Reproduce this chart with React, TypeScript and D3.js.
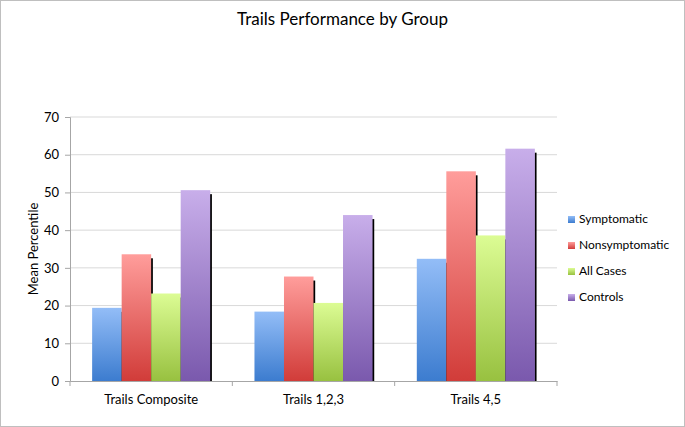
import React, { useRef, useEffect } from 'react';
import * as d3 from 'd3';

const categories = ['Trails Composite', 'Trails 1,2,3', 'Trails 4,5'];
const seriesNames = ['Symptomatic', 'Nonsymptomatic', 'All Cases', 'Controls'];
const symptomatic = [19.4, 18.4, 32.4];
const nonsymptomatic = [33.6, 27.7, 55.6];
const allCases = [23.2, 20.7, 38.6];
const controls = [50.6, 44.0, 61.6];
const yTicks = [0, 10, 20, 30, 40, 50, 60, 70];

// top / bottom gradient colours per series
const colorsTop = ['#93bdf7', '#ff9d9b', '#dcfc94', '#c8aeea'];
const colorsBottom = ['#3c7ccf', '#d13c39', '#98c140', '#7a59ad'];

const W = 685;
const H = 427;
const FONT = 'Lato, "Open Sans", sans-serif';

function App() {
  const svgRef = useRef<SVGSVGElement>(null);

  useEffect(() => {
    const series = [symptomatic, nonsymptomatic, allCases, controls];
    const svg = d3.select(svgRef.current);
    svg.selectAll('*').remove();

    const margin = { top: 117, right: 128, bottom: 46, left: 70 };
    const width = W - margin.left - margin.right;
    const height = H - margin.top - margin.bottom;

    // outer border
    svg.append('rect')
      .attr('x', 0.5).attr('y', 0.5)
      .attr('width', W - 1).attr('height', H - 1)
      .attr('fill', 'white')
      .attr('stroke', '#bfbfbf');

    const defs = svg.append('defs');
    seriesNames.forEach((_, i) => {
      const g = defs.append('linearGradient')
        .attr('id', `grad-${i}`)
        .attr('x1', '0%').attr('y1', '0%')
        .attr('x2', '0%').attr('y2', '100%');
      g.append('stop').attr('offset', '0%').attr('stop-color', colorsTop[i]);
      g.append('stop').attr('offset', '100%').attr('stop-color', colorsBottom[i]);
    });

    const g = svg.append('g')
      .attr('transform', `translate(${margin.left},${margin.top})`);

    const x0 = d3.scaleBand()
      .domain(categories)
      .range([0, width])
      .paddingInner(0)
      .paddingOuter(0);

    const x1 = d3.scaleBand()
      .domain(seriesNames)
      .range([0, x0.bandwidth()])
      .paddingOuter(0.75)
      .paddingInner(0);

    const y = d3.scaleLinear().domain([0, 70]).range([height, 0]);

    // gridlines
    g.append('g')
      .selectAll('line')
      .data(yTicks.slice(1))
      .enter().append('line')
      .attr('x1', 0).attr('x2', width)
      .attr('y1', d => y(d)).attr('y2', d => y(d))
      .attr('stroke', '#d9d9d9')
      .attr('stroke-width', 1);

    // y axis
    const yAxis = g.append('g')
      .call(d3.axisLeft(y).tickValues(yTicks).tickSize(5).tickPadding(6).tickFormat(d3.format('d')));
    yAxis.select('.domain').attr('stroke', '#a6a6a6');
    yAxis.selectAll('.tick line').attr('stroke', '#a6a6a6');
    yAxis.selectAll('text')
      .attr('fill', '#000')
      .style('font-family', FONT)
      .style('font-size', '13px');

    // bars + shadows
    categories.forEach((cat, ci) => {
      seriesNames.forEach((name, si) => {
        const v = series[si][ci];
        const bx = x0(cat)! + x1(name)!;
        const bw = x1.bandwidth();
        g.append('rect')
          .attr('x', bx + bw - 0.5)
          .attr('y', y(v) + 4)
          .attr('width', 2.2)
          .attr('height', height - y(v) - 4)
          .attr('fill', '#000');
        g.append('rect')
          .attr('x', bx)
          .attr('y', y(v))
          .attr('width', bw)
          .attr('height', height - y(v))
          .attr('fill', `url(#grad-${si})`);
      });
    });

    // x axis
    const xAxis = g.append('g')
      .attr('transform', `translate(0,${height})`)
      .call(d3.axisBottom(x0).tickSize(0).tickPadding(14));
    xAxis.select('.domain').attr('stroke', '#a6a6a6');
    xAxis.selectAll('text')
      .attr('fill', '#000')
      .style('font-family', FONT)
      .style('font-size', '13px');
    // category boundary ticks
    g.append('g')
      .selectAll('line')
      .data([0, 1, 2, 3])
      .enter().append('line')
      .attr('x1', d => d * x0.step()).attr('x2', d => d * x0.step())
      .attr('y1', height).attr('y2', height + 5)
      .attr('stroke', '#a6a6a6');

    // y axis title
    svg.append('text')
      .attr('transform', `translate(38,${margin.top + height / 2}) rotate(-90)`)
      .attr('text-anchor', 'middle')
      .style('font-family', FONT)
      .style('font-size', '13px')
      .text('Mean Percentile');

    // title
    svg.append('text')
      .attr('x', W / 2)
      .attr('y', 25)
      .attr('text-anchor', 'middle')
      .style('font-family', FONT)
      .style('font-size', '17px')
      .text('Trails Performance by Group');

    // legend
    const legend = svg.append('g').attr('transform', 'translate(568,219)');
    seriesNames.forEach((name, i) => {
      const row = legend.append('g').attr('transform', `translate(0,${i * 26})`);
      row.append('rect')
        .attr('x', 0).attr('y', -3)
        .attr('width', 7).attr('height', 7)
        .attr('fill', `url(#grad-${i})`);
      row.append('text')
        .attr('x', 11).attr('y', 0)
        .attr('dy', '0.35em')
        .style('font-family', FONT)
        .style('font-size', '12px')
        .text(name);
    });
  }, []);

  return (
    <div style={{ position: 'fixed', left: 0, top: 0 }}>
      <svg ref={svgRef} width={W} height={H} style={{ display: 'block' }}></svg>
    </div>
  );
}

export default App;
